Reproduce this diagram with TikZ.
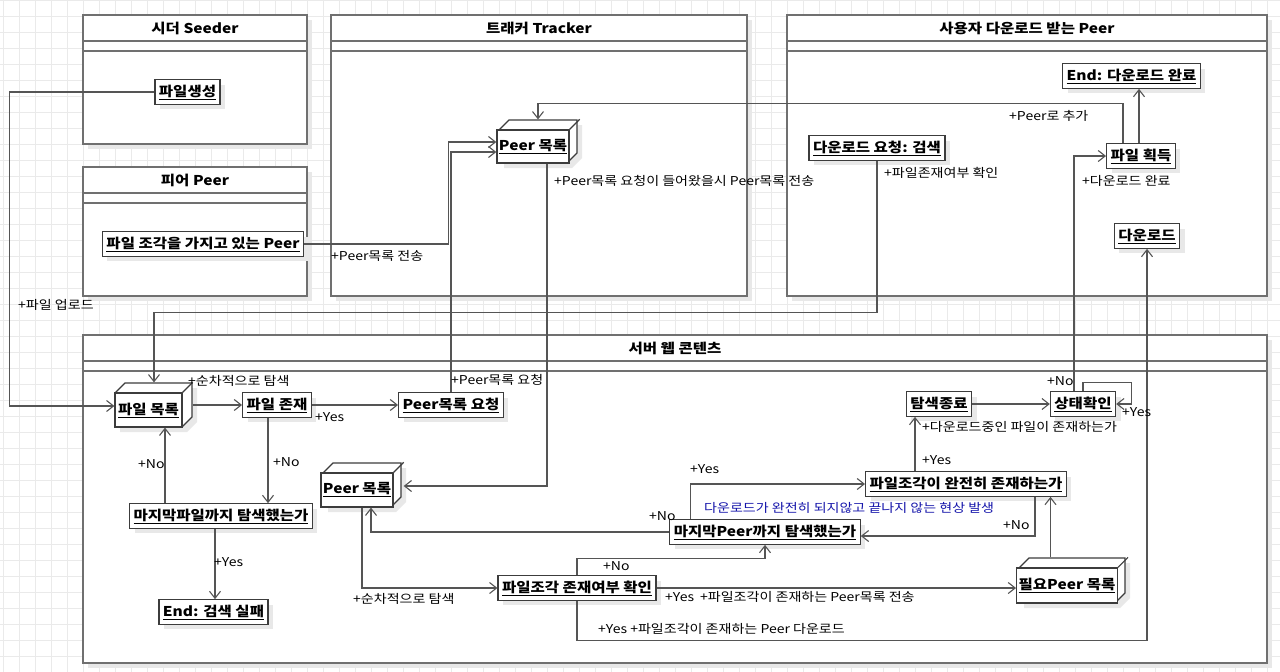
\documentclass[tikz,border=0pt]{standalone}
\usepackage{fontspec}
\setmainfont{Noto Sans CJK KR}[FakeStretch=1.15]
\usetikzlibrary{arrows.meta}
\usetikzlibrary{shadows}
\usetikzlibrary{calc}

\definecolor{gridc}{RGB}{234,234,234}
\definecolor{framec}{RGB}{112,112,112}
\definecolor{boxc}{RGB}{60,60,60}
\definecolor{linec}{RGB}{85,85,85}
\definecolor{notec}{RGB}{20,20,170}

\newcommand{\boxfont}{\fontsize{13.5}{15}\selectfont\bfseries}
\newcommand{\labfont}{\fontsize{12.2}{14}\selectfont}
\newcommand{\ulab}[1]{\underline{#1}}

\tikzset{
  shade5/.style={drop shadow={shadow xshift=5pt, shadow yshift=-5pt, fill=black!9, opacity=1}},
  act/.style={draw=boxc, fill=white, line width=1.2pt, font=\boxfont, inner xsep=4pt, inner ysep=2pt, minimum height=24.5, shade5},
  cubebox/.style={draw=boxc, fill=white, line width=1.2pt, font=\boxfont, inner sep=2pt},
  cubeline/.style={draw=boxc, fill=white, line width=1.2pt, line join=miter},
  flow/.style={draw=linec, line width=1.1pt, -{Straight Barb[length=7pt,width=11pt]}},
  lab/.style={font=\labfont, anchor=west, inner sep=0pt},
  pkg/.style={draw=framec, fill=white, line width=1.4pt, shade5},
  pkgline/.style={draw=framec, line width=1.4pt},
  pkgtitle/.style={font=\boxfont},
  gridline/.style={draw=gridc, line width=0.6pt},
}

% cube node: name, x, y, width, height, text
\newcommand{\cubenode}[6]{%
  \filldraw[cubeline, shade5] ({#2-#4/2},{#3-#5/2}) -- ++(10,-10) -- ++(#4,0) -- ++(0,#5) -- ({#2+#4/2},{#3+#5/2}) -- ({#2-#4/2},{#3+#5/2}) -- cycle;
  \node[cubebox, minimum width=#4, minimum height=#5] (#1) at (#2,#3) {#6};
  \draw[cubeline] (#1.north east) -- ++(10,-10);
}

% frame: name, x1, y1, x2, y2, title
\newcommand{\pkgframe}[6]{%
  \draw[pkg] (#2,#3) rectangle (#4,#5);
  \draw[pkgline] (#2,{#3+26}) -- (#4,{#3+26}) (#2,{#3+36}) -- (#4,{#3+36});
  \node[pkgtitle] (#1) at ({(#2+#4)/2},{#3+13}) {#6};
}

\begin{document}
\begin{tikzpicture}[x=1pt,y=-1pt]
\useasboundingbox (0,0) rectangle (1280,672);
\fill[white] (0,0) rectangle (1280,672);
\draw[gridline, step=16pt, xshift=3pt] (-3pt,-672pt) grid (1280pt,0pt);

\pkgframe{tSeeder}{83}{15}{307}{144}{시더 Seeder}
\pkgframe{tPeer}{83}{167}{307}{296}{피어 Peer}
\pkgframe{tTracker}{331}{15}{747}{296}{트래커 Tracker}
\pkgframe{tUser}{787}{15}{1267}{296}{사용자 다운로드 받는 Peer}
\pkgframe{tServer}{83}{335}{1267}{663}{서버 웹 콘텐츠}

% top row
\node[act] (seed) at (187.5,92) {\ulab{파일생성}};
\node[act] (hold) at (203,244) {\ulab{파일 조각을 가지고 있는 Peer}};
\cubenode{tlist}{533}{146.5}{68}{33}{\ulab{Peer 목록}}
\node[act] (req) at (877,148) {\ulab{다운로드 요청: 검색}};
\node[act] (done) at (1131.5,76) {\ulab{End: 다운로드 완료}};
\node[act] (get) at (1141,156) {\ulab{파일 획득}};
\node[act] (dl) at (1147,236) {\ulab{다운로드}};

% server
\cubenode{flist}{148.5}{410}{67}{34}{\ulab{파일 목록}}
\node[act] (exist) at (277,405) {\ulab{파일 존재}};
\node[act] (preq) at (451,405) {\ulab{Peer목록 요청}};
\node[act] (lastf) at (221,516) {\ulab{마지막파일까지 탐색했는가}};
\node[act] (fail) at (213.5,612) {\ulab{End: 검색 실패}};
\cubenode{slist}{357}{490}{68}{34}{\ulab{Peer 목록}}
\node[act] (chk) at (577,588) {\ulab{파일조각 존재여부 확인}};
\cubenode{need}{1067}{585.5}{96}{35}{\ulab{필요Peer 목록}}
\node[act] (full) at (966,484) {\ulab{파일조각이 완전히 존재하는가}};
\node[act] (lastp) at (765,532) {\ulab{마지막Peer까지 탐색했는가}};
\node[act] (stop) at (939,404) {\ulab{탐색종료}};
\node[act] (state) at (1083,404) {\ulab{상태확인}};

% connectors
\draw[flow] (seed.west) -- ++(-144.5,0) |- ($(flist.west)+(0,-4)$);
\draw[flow] (hold.east) -- ++(144,0) |- ($(tlist.west)+(0,-4.5)$);
\draw[flow] (preq.north) |- ($(tlist.west)+(0,5.5)$);
\draw[flow] ($(tlist.south)+(14,0)$) |- ($(slist.east)+(10,-4)$);
\draw[flow] (req.south) -- ++(0,151.5) -| ($(flist.north)+(5.5,-10)$);
\draw[flow] ($(flist.east)+(10,-5)$) -- (exist.west);
\draw[flow] (exist.east) -- (preq.west);
\draw[flow] ($(exist.south)+(-9,0)$) -- ({$(exist.south)+(-9,0)$} |- lastf.north);
\draw[flow] ($(lastf.north)+(-56,0)$) -- ({$(lastf.north)+(-56,0)$} |- flist.south);
\draw[flow] ($(lastf.south)+(-6,0)$) -- ({$(lastf.south)+(-6,0)$} |- fail.north);
\draw[flow] ($(slist.south)+(5,0)$) |- (chk.west);
\draw[flow] (chk.north) -- ++(0,-17) -| (lastp.south);
\draw[flow] (chk.east) -- ($(need.west)+(0,2.5)$);
\draw[flow] (chk.south) -- ++(0,40) -| (dl.south);
\draw[flow] ($(need.north)+(-16.5,-10)$) -- ({$(need.north)+(-16.5,0)$} |- full.south);
\draw[flow] ($(full.south)+(69,0)$) |- ($(lastp.east)+(0,4)$);
\draw[flow] (lastp.west) -| ($(slist.south)+(14,0)$);
\draw[flow] ($(lastp.north)+(-74.5,0)$) |- (full.west);
\draw[flow] ($(full.north)+(-51,0)$) -- ({$(full.north)+(-51,0)$} |- stop.south);
\draw[flow] (stop.east) -- (state.west);
\draw[flow] (state.north) -- ++(0,-9) -| ($(state.east)+(15,0)$) -- (state.east);
\draw[flow] ($(state.north)+(-9,0)$) |- (get.west);
\draw[flow] ($(get.north)+(-2,0)$) -- ({$(get.north)+(-2,0)$} |- done.south);
\draw[flow] ($(get.north)+(-18,0)$) -- ++(0,-40) -| ($(tlist.north)+(5,-10)$);

% labels
\node[lab] (lUpload) at (18,305) {+파일 업로드};
\node[lab] (lSend) at (331,256) {+Peer목록 전송};
\node[lab] (lAsk) at (451,380) {+Peer목록 요청};
\node[lab] (lReply) at (554,181) {+Peer목록 요청이 들어왔을시 Peer목록 전송};
\node[lab] (lCheck) at (884,173) {+파일존재여부 확인};
\node[lab] (lSeqA) at (188,381) {+순차적으로 탐색};
\node[lab] (lYesA) at (315,417) {+Yes};
\node[lab] (lNoA) at (273,462) {+No};
\node[lab] (lNoB) at (138,464) {+No};
\node[lab] (lYesB) at (214,562) {+Yes};
\node[lab] (lSeqB) at (353,599) {+순차적으로 탐색};
\node[lab] (lNoC) at (603,566) {+No};
\node[lab] (lYesC) at (665,597) {+Yes\hspace{6pt}+파일조각이 존재하는 Peer목록 전송};
\node[lab] (lYesD) at (598,629) {+Yes +파일조각이 존재하는 Peer 다운로드};
\node[lab] (lNoD) at (1003,525) {+No};
\node[lab] (lNoE) at (649,516) {+No};
\node[lab] (lYesE) at (690,469) {+Yes};
\node[lab, text=notec] (lNote) at (704,508) {다운로드가 완전히 되지않고 끝나지 않는 현상 발생};
\node[lab] (lYesF) at (922,460) {+Yes};
\node[lab] (lBusy) at (922,427) {+다운로드중인 파일이 존재하는가};
\node[lab] (lYesG) at (1122,412) {+Yes};
\node[lab] (lNoF) at (1047,381) {+No};
\node[lab] (lDone) at (1082,181) {+다운로드 완료};
\node[lab] (lAdd) at (1009,116) {+Peer로 추가};

\end{tikzpicture}
\end{document}
